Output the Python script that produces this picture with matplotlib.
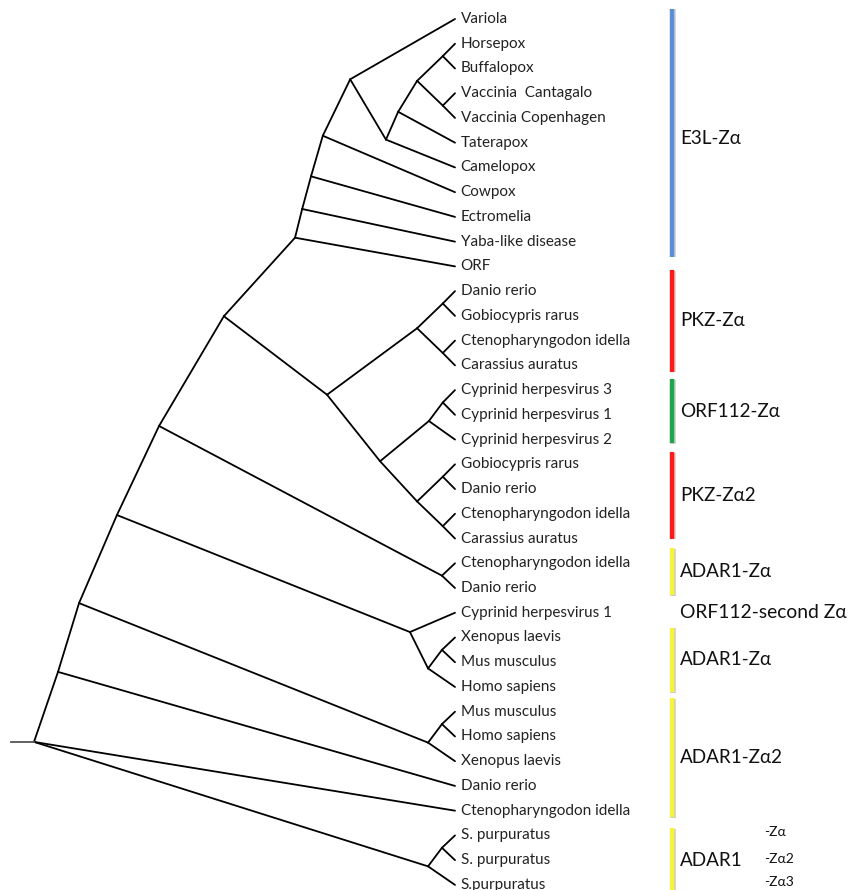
import matplotlib
matplotlib.use("Agg")
import matplotlib.pyplot as plt
import matplotlib.patheffects as pe

plt.rcParams['font.family'] = ['Lato', 'DejaVu Sans']

# leaves, top to bottom
leaves = ["Variola", "Horsepox", "Buffalopox", "Vaccinia  Cantagalo",
          "Vaccinia Copenhagen", "Taterapox", "Camelopox", "Cowpox",
          "Ectromelia", "Yaba-like disease", "ORF",
          "Danio rerio", "Gobiocypris rarus", "Ctenopharyngodon idella",
          "Carassius auratus", "Cyprinid herpesvirus 3", "Cyprinid herpesvirus 1",
          "Cyprinid herpesvirus 2", "Gobiocypris rarus", "Danio rerio",
          "Ctenopharyngodon idella", "Carassius auratus",
          "Ctenopharyngodon idella", "Danio rerio", "Cyprinid herpesvirus 1",
          "Xenopus laevis", "Mus musculus", "Homo sapiens", "Mus musculus",
          "Homo sapiens", "Xenopus laevis", "Danio rerio",
          "Ctenopharyngodon idella", "S. purpuratus", "S. purpuratus",
          "S.purpuratus"]

# internal nodes -> children (ints are leaf indices)
children = {
    "root": ["N1", 32, "S"],
    "N1": ["N2", 31],
    "N2": ["N3", "M"],
    "N3": ["N4", "H"],
    "N4": ["N5", "A1"],
    "N5": ["N6", "F"],
    "N6": ["N7", 10],
    "N7": ["N8", 9],
    "N8": ["N9", 8],
    "N9": ["P", 7],
    "P": [0, "P2"],
    "P2": ["P3", 6],
    "P3": ["P4", 5],
    "P4": ["P5", "P6"],
    "P5": [1, 2],
    "P6": [3, 4],
    "F": ["F1", "F2"],
    "F1": ["F1a", "F1b"],
    "F1a": [11, 12],
    "F1b": [13, 14],
    "F2": ["F3", "F4"],
    "F3": ["F3a", 17],
    "F3a": [15, 16],
    "F4": ["F4a", "F4b"],
    "F4a": [18, 19],
    "F4b": [20, 21],
    "A1": [22, 23],
    "H": [24, "H1"],
    "H1": ["H1a", 27],
    "H1a": [25, 26],
    "M": ["Ma", 30],
    "Ma": [28, 29],
    "S": ["Sa", 35],
    "Sa": [33, 34],
}

# distance from root (leaves at 1.0)
depth = {
    "root": 0.0, "N1": 0.057, "N2": 0.107, "N3": 0.197, "N4": 0.297,
    "N5": 0.451, "N6": 0.620, "N7": 0.637, "N8": 0.658, "N9": 0.686,
    "P": 0.751, "P2": 0.836, "P3": 0.865, "P4": 0.910, "P5": 0.971, "P6": 0.971,
    "F": 0.696, "F1": 0.910, "F1a": 0.971, "F1b": 0.971, "F2": 0.822,
    "F3": 0.938, "F3a": 0.971, "F4": 0.910, "F4a": 0.971, "F4b": 0.971,
    "A1": 0.969, "H": 0.893, "H1": 0.936, "H1a": 0.969,
    "M": 0.936, "Ma": 0.969, "S": 0.936, "Sa": 0.969,
}

# backbone node heights (others are child midpoints)
node_y = {"root": 29.22, "N1": 26.39, "N2": 23.61, "N3": 20.05,
          "N4": 16.45, "H": 24.78}

# coloured group bars: label, start, end (leaf units), colour
groups = ["E3L-Z\u03b1", "PKZ-Z\u03b1", "ORF112-Z\u03b1", "PKZ-Z\u03b12",
          "ADAR1-Z\u03b1", "ADAR1-Z\u03b1", "ADAR1-Z\u03b12", "ADAR1"]
group_start = [-0.42, 10.15, 14.55, 17.5, 21.4, 24.6, 27.45, 32.7]
group_end = [9.6, 14.25, 17.15, 21.0, 23.3, 27.2, 32.25, 35.3]
group_label_row = [4.85, 12.2, 15.85, 19.25, 22.35, 25.9, 29.85, 34.0]
group_color = ["#5b8ed6", "#ff1a1a", "#1fa64a", "#ff1a1a",
               "#f7f23a", "#f7f23a", "#f7f23a", "#f7f23a"]
sub_labels = ["-Z\u03b1", "-Z\u03b12", "-Z\u03b13"]
sub_rows = [32.85, 33.95, 34.9]


def pos(n):
    if isinstance(n, int):
        return 1.0, float(n)
    if n in node_y:
        return depth[n], node_y[n]
    ys = [pos(c)[1] for c in children[n]]
    return depth[n], (min(ys) + max(ys)) / 2


fig = plt.figure(figsize=(8.51, 8.90), dpi=100)
ax = fig.add_axes([0, 0, 1, 1])
ax.set_xlim(-34 / 421, 817 / 421)
ax.set_ylim(871 / 24.74, -19 / 24.74)
ax.axis('off')

for n, kids in children.items():
    x0, y0 = pos(n)
    for c in kids:
        x1, y1 = pos(c)
        ax.plot([x0, x1], [y0, y1], color='black', lw=1.3,
                solid_capstyle='round')

rx, ry = pos("root")
ax.plot([rx - 0.055, rx], [ry, ry], color='#555555', lw=1.3)

for i, name in enumerate(leaves):
    ax.annotate(name, (1.0, i), xytext=(4, 0), textcoords='offset points',
                va='center', ha='left', fontsize=10.95, color='#222222')

bar_x = 1.515
for lab, s, e, r, col in zip(groups, group_start, group_end,
                             group_label_row, group_color):
    fx = [pe.Stroke(linewidth=4, foreground='#cccccc', offset=(0.6, -0.6)),
          pe.Normal()]
    ax.plot([bar_x, bar_x], [s, e], color=col, lw=3.2, solid_capstyle='butt',
            path_effects=fx)
    ax.text(bar_x + 0.02, r, lab, va='center', ha='left',
            fontsize=13.6, color='#111111')

ax.text(1.535, 24, "ORF112-second Z\u03b1", va='center', ha='left',
        fontsize=13.9, color='#111111')

for lab, r in zip(sub_labels, sub_rows):
    ax.text(1.735, r, lab, va='center', ha='left', fontsize=10,
            color='#111111')

fig.savefig("out.png", dpi=100)
